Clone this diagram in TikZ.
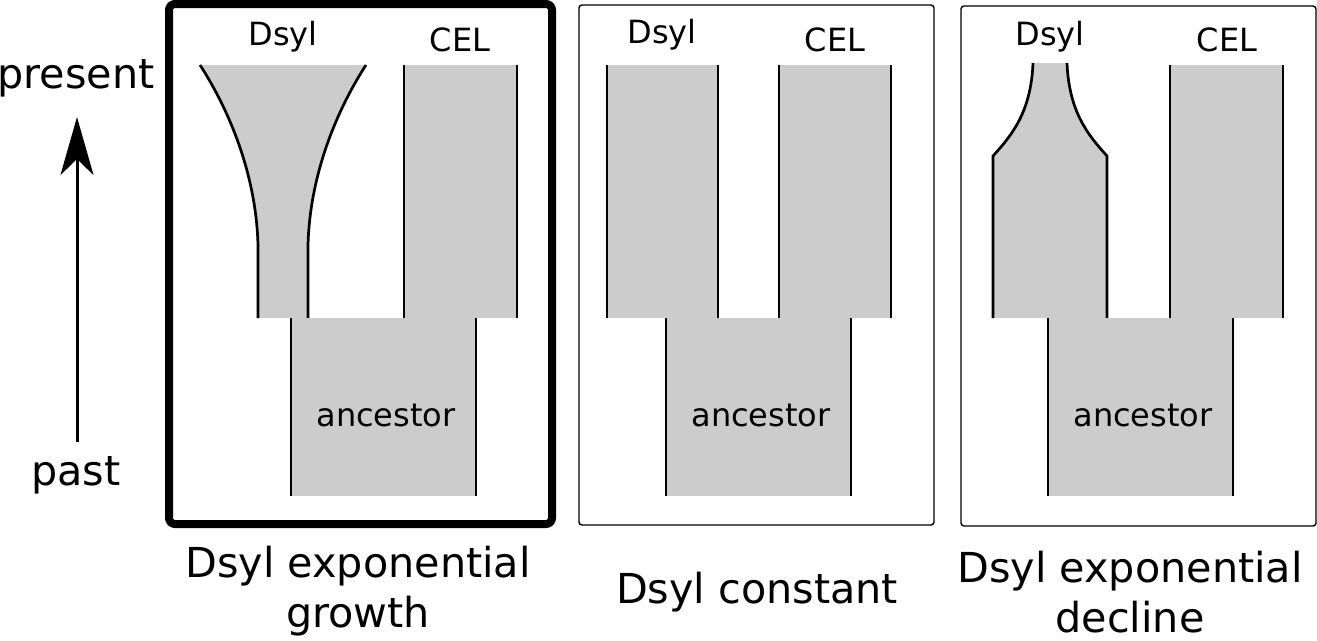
\documentclass[tikz,border=0pt]{standalone}
\usepackage{fontspec}
\setmainfont{DejaVu Sans}
\usetikzlibrary{arrows.meta}
\definecolor{popgray}{HTML}{CCCCCC}
\begin{document}
\begin{tikzpicture}[x=1pt,y=-1pt,
  popfill/.style={fill=popgray,draw=none},
  side/.style={draw=black,line width=2.7pt},
  thickpanel/.style={draw=black,line width=8pt,rounded corners=6pt},
  thinpanel/.style={draw=black,line width=1.4pt,rounded corners=3pt},
  lbl/.style={inner sep=0pt,font=\fontsize{32}{38}\selectfont},
  big/.style={inner sep=0pt,align=center,font=\fontsize{41.3}{50}\selectfont}]
\useasboundingbox (0,0) rectangle (1317,640);
% panels
\draw[thickpanel] (169,4) rectangle (552,524);
\draw[thinpanel] (579,5) rectangle (934,525);
\draw[thinpanel] (961,6) rectangle (1316,526);
% ---------- panel 1: growth ----------
\fill[popfill] (200,65) .. controls (226,105) and (256,170) .. (258,245) -- (258,318)
  -- (308,318) -- (308,245) .. controls (310,170) and (340,105) .. (366,65) -- cycle;
\draw[side] (200,65) .. controls (226,105) and (256,170) .. (258,245) -- (258,318);
\draw[side] (366,65) .. controls (340,105) and (310,170) .. (308,245) -- (308,318);
\fill[popfill] (404,65) rectangle (517,318);
\draw[side] (404,65) -- (404,318);
\draw[side] (517,65) -- (517,318);
\fill[popfill] (291,318) rectangle (476,496);
\draw[side] (291,318) -- (291,496);
\draw[side] (476,318) -- (476,496);
\node[lbl] (d1) at (283,37) {Dsyl};
\node[lbl] (c1) at (460,40) {CEL};
\node[lbl] (a1) at (386,415) {ancestor};
\node[big] (t1) at (358,591) {Dsyl exponential\\growth};
% ---------- panel 2: constant ----------
\fill[popfill] (607,65) rectangle (718,318);
\draw[side] (607,65) -- (607,318);
\draw[side] (718,65) -- (718,318);
\fill[popfill] (779,65) rectangle (891,318);
\draw[side] (779,65) -- (779,318);
\draw[side] (891,65) -- (891,318);
\fill[popfill] (666,318) rectangle (851,496);
\draw[side] (666,318) -- (666,496);
\draw[side] (851,318) -- (851,496);
\node[lbl] (d2) at (662,35) {Dsyl};
\node[lbl] (c2) at (835,40) {CEL};
\node[lbl] (a2) at (761,415) {ancestor};
\node[big] (t2) at (757,592) {Dsyl constant};
% ---------- panel 3: decline ----------
\fill[popfill] (1033,63) .. controls (1031,112) and (1012,135) .. (993,156) -- (993,318)
  -- (1107,318) -- (1107,156) .. controls (1088,135) and (1069,112) .. (1067,63) -- cycle;
\draw[side] (1033,63) .. controls (1031,112) and (1012,135) .. (993,156) -- (993,318);
\draw[side] (1067,63) .. controls (1069,112) and (1088,135) .. (1107,156) -- (1107,318);
\fill[popfill] (1170,65) rectangle (1283,318);
\draw[side] (1170,65) -- (1170,318);
\draw[side] (1283,65) -- (1283,318);
\fill[popfill] (1048,318) rectangle (1233,496);
\draw[side] (1048,318) -- (1048,496);
\draw[side] (1233,318) -- (1233,496);
\node[lbl] (d3) at (1050,37) {Dsyl};
\node[lbl] (c3) at (1227,40) {CEL};
\node[lbl] (a3) at (1143,415) {ancestor};
\node[big] (t3) at (1130,592) {Dsyl exponential\\decline};
% ---------- time arrow ----------
\node[big] (present) at (76,78) {present};
\node[big] (past) at (76,475) {past};
\coordinate (tail) at (77,442);
\coordinate (tip) at (77,117);
\draw[line width=3pt,-{Stealth[length=58pt,width=33pt,inset=16pt]}] (tail) -- (tip);
\end{tikzpicture}
\end{document}
